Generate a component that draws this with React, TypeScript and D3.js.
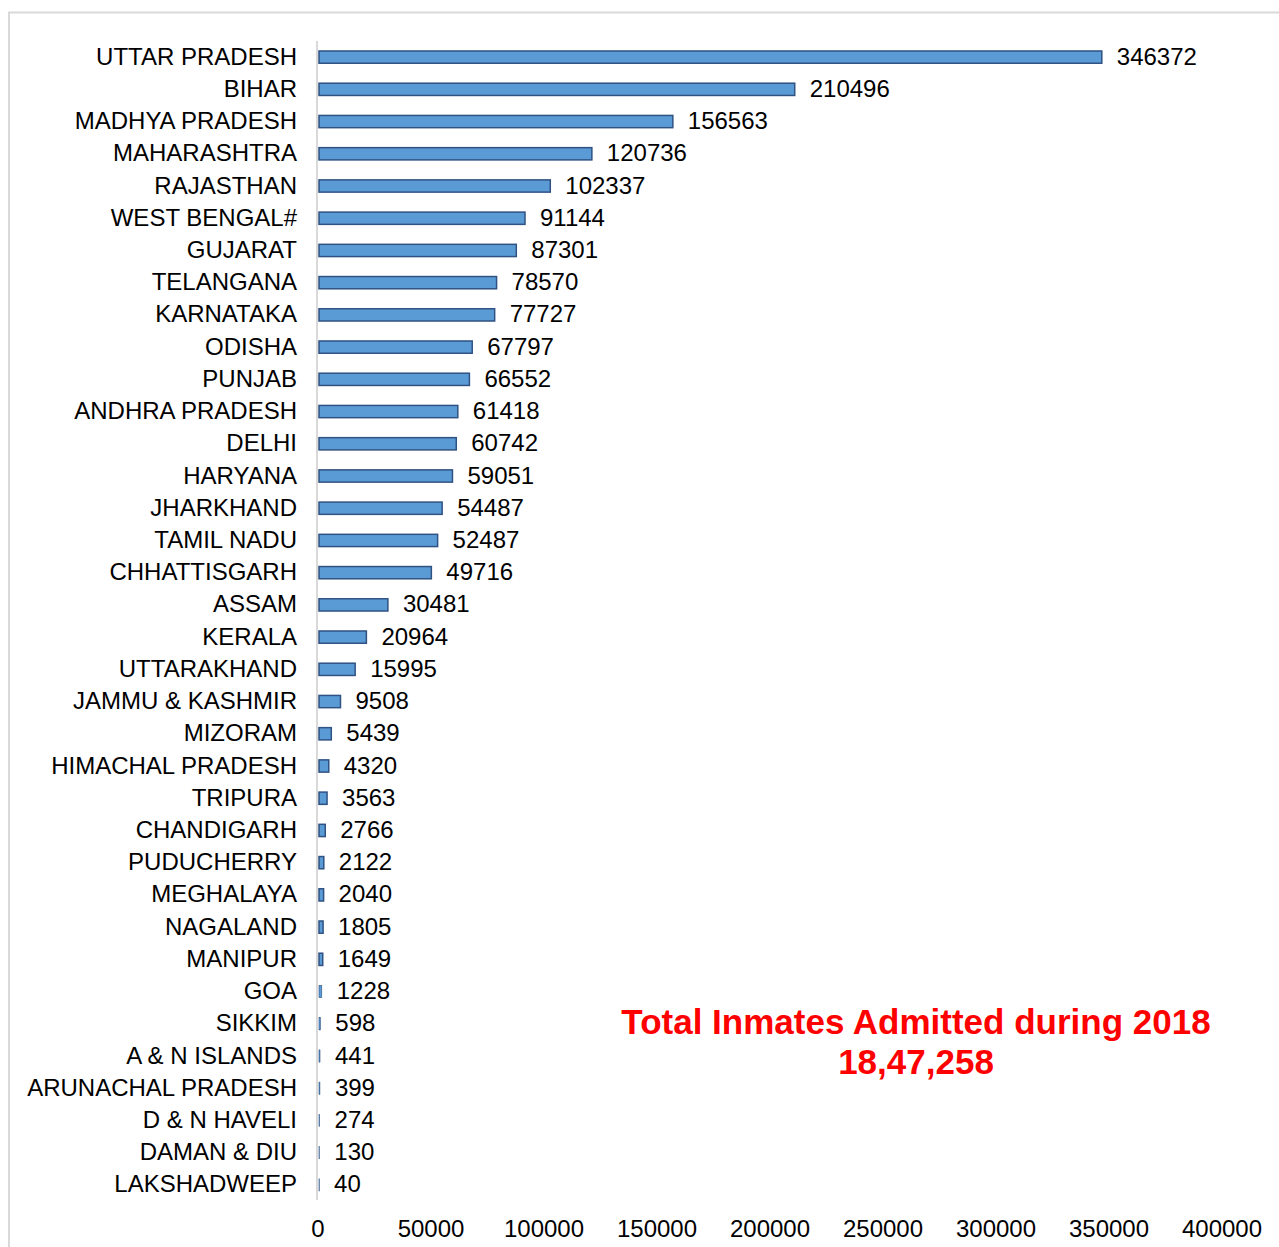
import React from "react";
import * as d3 from "d3";

const states = [
  "UTTAR PRADESH", "BIHAR", "MADHYA PRADESH", "MAHARASHTRA", "RAJASTHAN", "WEST BENGAL#",
  "GUJARAT", "TELANGANA", "KARNATAKA", "ODISHA", "PUNJAB", "ANDHRA PRADESH", "DELHI",
  "HARYANA", "JHARKHAND", "TAMIL NADU", "CHHATTISGARH", "ASSAM", "KERALA", "UTTARAKHAND",
  "JAMMU & KASHMIR", "MIZORAM", "HIMACHAL PRADESH", "TRIPURA", "CHANDIGARH", "PUDUCHERRY",
  "MEGHALAYA", "NAGALAND", "MANIPUR", "GOA", "SIKKIM", "A & N ISLANDS", "ARUNACHAL PRADESH",
  "D & N HAVELI", "DAMAN & DIU", "LAKSHADWEEP",
];
const inmates = [
  346372, 210496, 156563, 120736, 102337, 91144, 87301, 78570, 77727, 67797, 66552, 61418,
  60742, 59051, 54487, 52487, 49716, 30481, 20964, 15995, 9508, 5439, 4320, 3563, 2766,
  2122, 2040, 1805, 1649, 1228, 598, 441, 399, 274, 130, 40,
];
const xTicks = [0, 50000, 100000, 150000, 200000, 250000, 300000, 350000, 400000];
const titleLines = ["Total Inmates Admitted during 2018", "18,47,258"];

export default function App() {
  const W = 1279, H = 1247;
  const x = d3.scaleLinear().domain([0, 400000]).range([318, 1222]);
  const y = d3.scaleBand().domain(states).range([41, 1201]).paddingInner(0.62).paddingOuter(0.31);
  const font = "'Liberation Sans', Arial, sans-serif";
  return (
    <svg width={W} height={H} style={{ position: "absolute", left: 0, top: 0, background: "#fff" }} fontFamily={font}>
      <rect x={9} y={12.5} width={W + 20} height={H + 20} fill="#fff" stroke="#d9d9d9" strokeWidth={2} />
      <line x1={317} x2={317} y1={41} y2={1200} stroke="#d9d9d9" strokeWidth={2} />
      {states.map((s, i) => {
        const yy = y(s)!;
        const bw = y.bandwidth();
        const cy = yy + bw / 2;
        const w = x(inmates[i]) - x(0);
        return (
          <g key={s}>
            <rect x={x(0) + 1} y={yy} width={Math.max(0.3, w)} height={bw}
              fill="#5b9bd5" stroke="#2f5283" strokeWidth={w < 3 ? 0.6 : 1.5} />
            <text x={297} y={cy - 1} textAnchor="end" dominantBaseline="central" fontSize={24} fill="#000">{s}</text>
            <text x={x(inmates[i]) + 16} y={cy - 1} dominantBaseline="central" fontSize={24} fill="#000">{inmates[i]}</text>
          </g>
        );
      })}
      {xTicks.map((t) => (
        <text key={t} x={x(t)} y={1228} textAnchor="middle" dominantBaseline="central" fontSize={24} fill="#000">{t}</text>
      ))}
      {titleLines.map((l, i) => (
        <text key={i} x={916} y={1021 + i * 40} textAnchor="middle" dominantBaseline="central" fontSize={35} fontWeight="bold" fill="#ff0000">{l}</text>
      ))}
    </svg>
  );
}
